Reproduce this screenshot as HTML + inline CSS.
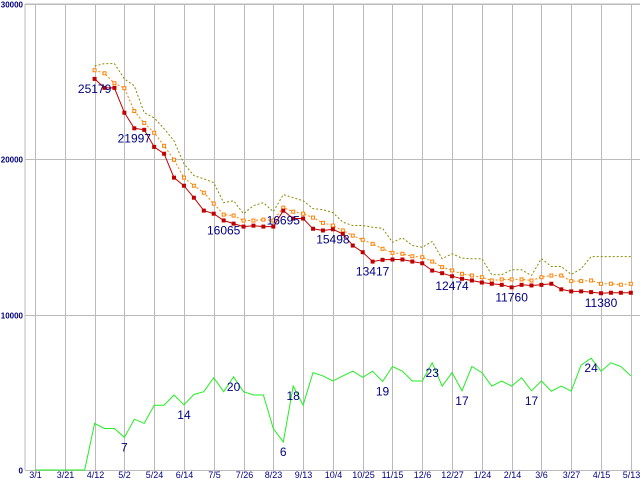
<!DOCTYPE html>
<html><head><meta charset="utf-8"><style>
body{margin:0;background:#fff;}
svg{display:block;font-family:"Liberation Sans",sans-serif;}
</style></head><body>
<svg id="chart" width="640" height="480" xmlns="http://www.w3.org/2000/svg"></svg>
<script>
const xLabels=["3/1","3/21","4/12","5/2","5/24","6/14","7/5","7/26","8/23","9/13","10/4","10/25","11/15","12/6","12/27","1/24","2/14","3/6","3/27","4/15","5/13"];
const yTicks=[0,10000,20000,30000];
const redValues=[25179,24600,24600,23000,21997,21900,20800,20360,18820,18300,17530,16700,16500,16065,15860,15670,15730,15670,15670,16695,16190,16190,15530,15420,15498,15200,14450,14020,13417,13530,13550,13550,13420,13310,12840,12670,12474,12310,12200,12070,11990,11920,11760,11920,11880,11920,11990,11630,11500,11500,11450,11380,11410,11410,11410];
const orangeValues=[25735,25540,24900,24580,23110,22340,21710,20870,19970,18820,18300,17850,17150,16440,16380,16060,16060,16120,16060,16890,16630,16500,16250,15910,15740,15420,15090,14820,14560,14240,13980,13920,13760,13700,13420,13060,12850,12630,12520,12410,12200,12270,12270,12270,12200,12410,12520,12520,12160,12160,12200,11990,11990,11930,11990];
const oliveValues=[26010,26160,26160,25180,24730,23000,22670,21970,21190,19720,18950,18750,18500,17210,17340,16500,17020,17210,16630,17730,17530,17340,16830,16760,16570,15950,15740,15740,15630,15560,14660,14950,14450,14340,14710,13600,13920,13640,13600,13600,12570,12570,12890,12890,12520,13600,13100,13100,12590,12950,13740,13740,13740,13740,13740];
const greenValues=[0,0,0,0,0,0,10.0,8.9,8.9,7,10.9,10.0,13.9,13.9,16.1,14,16.2,16.8,19.8,16.8,20,16.8,16.1,16.1,8.9,6,18,13.9,20.9,20.2,19.1,20.2,21.2,19.9,21.2,19,22.2,21.2,19.1,19.1,23,18.0,20.9,17,22.2,20.9,18.0,19.1,18.0,19.8,17,19.1,16.9,18.0,16.9,22.5,24,21.2,23.0,22.2,20.2];
const redLabelIdx=[0,4,13,19,24,28,36,42,51];
const greenLabelIdx=[9,15,20,25,26,35,40,43,50,56];

const NS="http://www.w3.org/2000/svg";
const svg=document.getElementById('chart');
const X0=35, STEP=9.93, Y0=470, Y1=4, RED_OFF=6;
const xIdx=i=>X0+i*STEP;
const yVal=v=>Y0-(v/30000)*(Y0-Y1);
const yPct=v=>Y0-(v/100)*(Y0-Y1);
function mk(tag,attrs,parent){const e=document.createElementNS(NS,tag);for(const k in attrs)e.setAttribute(k,attrs[k]);(parent||svg).appendChild(e);return e;}

// frame & grid
const grid=mk('g',{});


mk('line',{x1:25,y1:Y1,x2:25,y2:Y0,stroke:'#bbb','stroke-width':1},grid);
mk('line',{x1:25,y1:Y1,x2:640,y2:Y1,stroke:'#bbb','stroke-width':1},grid);
yTicks.forEach(t=>{
  const y=Math.round(yVal(t))+0.5;
  mk('line',{x1:25,y1:y,x2:640,y2:y,stroke:'#bbb','stroke-width':1},grid);
  const tx=mk('text',{x:23,y:y+3,'text-anchor':'end','font-size':8,fill:'#000080','font-weight':'bold'});
  tx.textContent=t;
  
  
});
xLabels.forEach((l,k)=>{
  const x=Math.round(X0+k*STEP*3)+0.5;
  mk('line',{x1:x,y1:Y1,x2:x,y2:Y0+3,stroke:'#bbb','stroke-width':1},grid);
  const tx=mk('text',{x:x,y:478,'text-anchor':'middle','font-size':9,fill:'#000080'});
  tx.textContent=l;
  
  
});

function series(vals,off,yf,attrs,name){
  const pts=vals.map((v,i)=>xIdx(i+off).toFixed(1)+','+yf(v).toFixed(1)).join(' ');
  const p=mk('polyline',Object.assign({points:pts,fill:'none'},attrs));
  
  
}
series(oliveValues,RED_OFF,yVal,{stroke:'#8a8a00','stroke-width':1,'stroke-dasharray':'2,2'},'olive-series-line');
series(orangeValues,RED_OFF,yVal,{stroke:'#ff8000','stroke-width':1,'stroke-dasharray':'2,2'},'orange-series-line');
orangeValues.forEach((v,i)=>{
  const r=mk('rect',{x:xIdx(i+RED_OFF)-1.5,y:yVal(v)-1.5,width:3,height:3,fill:'#fff',stroke:'#ff8000','stroke-width':1});
  
  
});
series(redValues,RED_OFF,yVal,{stroke:'#c00000','stroke-width':1},'red-series-line');
redValues.forEach((v,i)=>{
  const r=mk('rect',{x:xIdx(i+RED_OFF)-2,y:yVal(v)-2,width:4,height:4,fill:'#c00000'});
  
  
});
series(greenValues,0,yPct,{stroke:'#22ee22','stroke-width':1},'green-series-line');

redLabelIdx.forEach(i=>{
  const t=mk('text',{x:xIdx(i+RED_OFF),y:yVal(redValues[i])+14,'text-anchor':'middle','font-size':12,fill:'#000080'});
  t.textContent=redValues[i];
  
  
});
greenLabelIdx.forEach(i=>{
  const t=mk('text',{x:xIdx(i),y:yPct(greenValues[i])+14,'text-anchor':'middle','font-size':12,fill:'#000080'});
  t.textContent=greenValues[i];
  
  
});
</script>
</body></html>
